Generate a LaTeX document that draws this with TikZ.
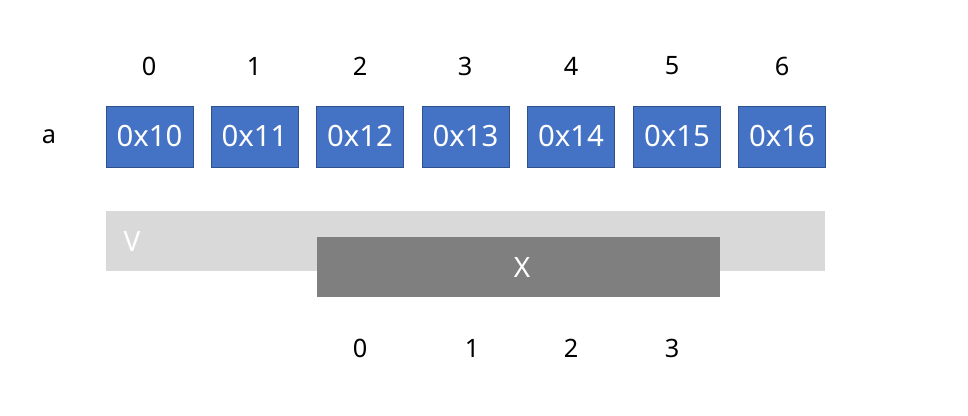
\documentclass[tikz,border=0pt]{standalone}
\usepackage{fontspec}
\setmainfont{Noto Sans}
\usetikzlibrary{positioning}
\definecolor{cellblue}{HTML}{4472C4}
\definecolor{celledge}{HTML}{2F528F}
\definecolor{vgray}{HTML}{D9D9D9}
\definecolor{xgray}{HTML}{7F7F7F}
\tikzset{
	cell/.style={draw=celledge, line width=0.5pt, fill=cellblue, text=white,
		minimum width=65.25pt, minimum height=45.75pt, inner sep=0pt, font=\fontsize{22}{22}\selectfont},
	idx/.style={font=\fontsize{19}{19}\selectfont, inner sep=0pt},
	band/.style={inner sep=0pt, text=white, font=\fontsize{21}{21}\selectfont}
}
\begin{document}
\begin{tikzpicture}[x=0.75pt, y=-0.75pt]
			\useasboundingbox (0,0) rectangle (968,416);
			\node[idx] (name) at (49,137) {a};
			\foreach \i/\xc/\xi in {0/149.5/149, 1/254.5/254, 2/360/360, 3/465.5/465, 4/571/571, 5/677/672, 6/782/782}
			{
				\node[cell] (cell\i) at (\xc,136.5) {0x1\i};
				\node[idx] (idx\i) at (\xi,66) {\i};
			}
			% the two bars
			\fill[vgray] (106,211) rectangle (825,271);
			\node[band] (vlabel) at (132,242) {V};
			\fill[xgray] (317,237) rectangle (720,297);
			\node[band] (xlabel) at (522,268) {X};
			\foreach \j/\xj in {0/360, 1/472, 2/571, 3/672}
				\node[idx] (sub\j) at (\xj,348) {\j};
		\end{tikzpicture}
\end{document}
